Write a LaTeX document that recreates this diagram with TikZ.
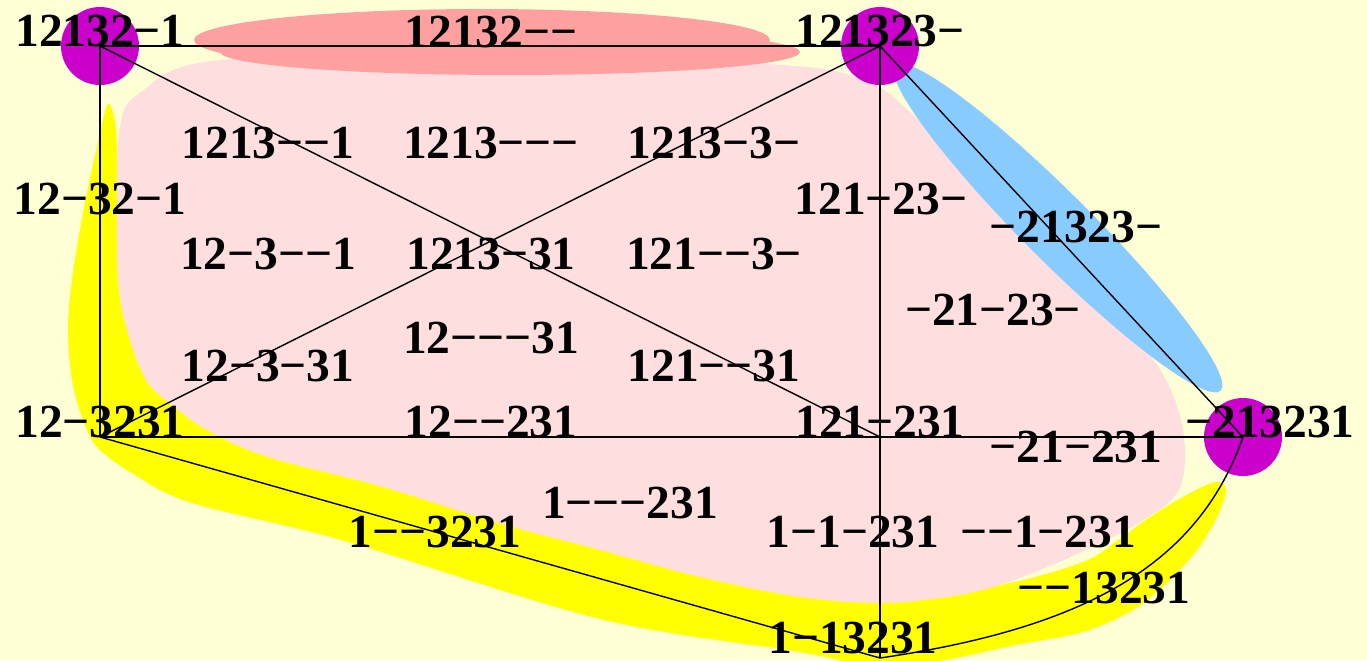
\documentclass[tikz,border=0pt]{standalone}
\usepackage{fontspec}
\setmainfont{Liberation Serif}
\usetikzlibrary{positioning}
\definecolor{PaperCream}{HTML}{FFFFD6}
\definecolor{BandYellow}{HTML}{FFFF00}
\definecolor{FacePink}{HTML}{FFDEDF}
\definecolor{EdgeSalmon}{HTML}{FFA0A0}
\definecolor{EdgeSky}{HTML}{88CCFF}
\definecolor{DotPurple}{HTML}{CC00CC}
\newcommand{\hy}{\char"2212\relax}
\tikzset{
    % vertex discs
    vertex dot/.style={
        fill=DotPurple
    },
    % labels sit on their baseline
    cell label/.style={
        anchor=base,
        inner sep=0pt,
        text=black,
        font=\fontsize{27}{30}\selectfont\bfseries
    },
    edge line/.style={
        draw=black,
        line width=0.8pt
    }
}

\begin{document}
\begin{tikzpicture}[x=0.02cm, y=-0.02cm]
        % Canvas
        \useasboundingbox (0,0) rectangle (1367,660);
        \fill[PaperCream] (0,0) rectangle (1367,660);

        % Yellow band
        \fill[BandYellow] plot[smooth cycle, tension=0.55] coordinates {
            (108,104) (97,147) (83,213) (72,280) (68,330) (72,380) (83,420)
            (98,448) (135,475) (192,503) (345,541) (600,619) (800,652)
            (880,668) (945,660) (1016,645) (1083,632) (1133,610) (1167,583)
            (1197,550) (1217,517) (1226,490) (1215,482) (1183,497) (1150,517)
            (1117,541) (1083,562) (1000,585) (880,598) (600,540) (300,460)
            (170,395) (128,320) (118,200) (116,130)};

        % Pink face
        \fill[FacePink] plot[smooth cycle, tension=0.6] coordinates {
            (220,60) (500,56) (783,65) (867,82) (910,112) (1000,200)
            (1100,300) (1150,355) (1175,400) (1185,450) (1177,493)
            (1140,522) (1090,548) (1040,570) (990,588) (940,598) (880,603)
            (800,597) (700,577) (600,550) (498,523) (383,487) (268,457)
            (207,430) (172,405) (146,380) (127,330) (118,280) (117,200)
            (120,127) (140,93)};

        % Salmon edge blob
        \fill[EdgeSalmon] (482,40) ellipse [x radius=5.76cm, y radius=0.62cm];
        \fill[EdgeSalmon] (510,52) ellipse [x radius=5.8cm, y radius=0.46cm];

        % Sky edge blob
        \fill[EdgeSky, rotate around={-45:(1058,228)}] (1058,228) ellipse [x radius=4.6cm, y radius=0.68cm];

        % Vertices
        \coordinate (a) at (100,46);
        \coordinate (b) at (880,46);
        \coordinate (c) at (1243,437);
        \coordinate (d) at (100,437);
        \coordinate (e) at (880,437);
        \coordinate (f) at (880,658);
        \foreach \v in {a,b,c}
            \fill[vertex dot] (\v) circle [radius=0.78cm];

        % Edges
        \draw[edge line] (a) -- (b);
        \draw[edge line] (a) -- (d);
        \draw[edge line] (a) -- (e);
        \draw[edge line] (b) -- (d);
        \draw[edge line] (b) -- (e);
        \draw[edge line] (b) -- (c);
        \draw[edge line] (d) -- (e);
        \draw[edge line] (e) -- (c);
        \draw[edge line] (e) -- (f);
        \draw[edge line] (d) -- (f);
        \draw[edge line] (c) .. controls (1198,565) and (1085,628) .. (f);

        % Labels
        \node[cell label] (l1) at (a) {12132\hy1};
        \node[cell label] (l2) at (491,47) {12132\hy\hy};
        \node[cell label] (l3) at (b) {121323\hy};
        \node[cell label] (l4) at (268,158) {1213\hy\hy1};
        \node[cell label] (l5) at (491,158) {1213\hy\hy\hy};
        \node[cell label] (l6) at (714,158) {1213\hy3\hy};
        \node[cell label] (l7) at (100,214) {12\hy32\hy1};
        \node[cell label] (l8) at (881,214) {121\hy23\hy};
        \node[cell label] (l9) at (1076,242) {\hy21323\hy};
        \node[cell label] (l10) at (268,269) {12\hy3\hy\hy1};
        \node[cell label] (l11) at (491,269) {1213\hy31};
        \node[cell label] (l12) at (714,269) {121\hy\hy3\hy};
        \node[cell label] (l13) at (993,325) {\hy21\hy23\hy};
        \node[cell label] (l14) at (491,353) {12\hy\hy\hy31};
        \node[cell label] (l15) at (268,381) {12\hy3\hy31};
        \node[cell label] (l16) at (714,381) {121\hy\hy31};
        \node[cell label] (l17) at (d) {12\hy3231};
        \node[cell label] (l18) at (491,437) {12\hy\hy231};
        \node[cell label] (l19) at (e) {121\hy231};
        \node[cell label] (l20) at (1270,437) {\hy213231};
        \node[cell label] (l21) at (1076,462) {\hy21\hy231};
        \node[cell label] (l22) at (630,518) {1\hy\hy\hy231};
        \node[cell label] (l23) at (435,547) {1\hy\hy3231};
        \node[cell label] (l24) at (853,547) {1\hy1\hy231};
        \node[cell label] (l25) at (1048,547) {\hy\hy1\hy231};
        \node[cell label] (l26) at (1104,603) {\hy\hy13231};
        \node[cell label] (l27) at (853,653) {1\hy13231};
    \end{tikzpicture}
\end{document}
